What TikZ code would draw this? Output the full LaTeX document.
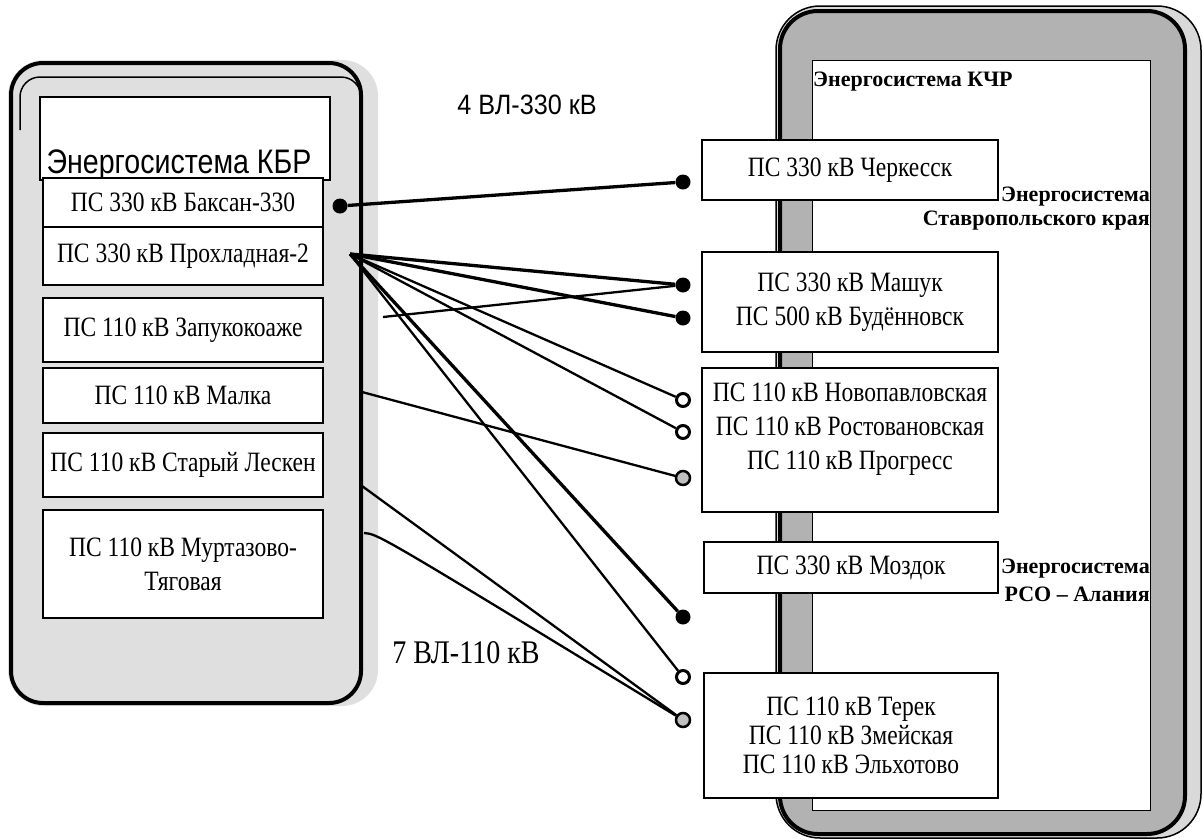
\documentclass[tikz,border=0pt]{standalone}
\usepackage{fontspec}
\setmainfont{Liberation Serif}
\newfontfamily\boxfont[FakeStretch=0.84]{Liberation Serif}
\newfontfamily\sysfont[FakeStretch=0.84]{Liberation Sans}
\newfontfamily\vlsans[FakeStretch=0.9]{Liberation Sans}
\newfontfamily\vlserif[FakeStretch=0.85]{Liberation Serif}
\begin{document}
\begin{tikzpicture}[x=1pt,y=-1pt,
  box/.style={draw=black,line width=2pt,fill=white,inner sep=0pt,align=center,
    font=\boxfont\fontsize{28}{34}\selectfont},
  lbl/.style={inner sep=0pt,font=\bfseries\fontsize{22}{24}\selectfont},
  fdot/.style={circle,fill=black,inner sep=0pt,minimum size=15pt},
  odot/.style={circle,draw=black,line width=3pt,fill=white,inner sep=0pt,minimum size=13pt},
  gdot/.style={circle,draw=black,line width=2.5pt,fill=gray!50,inner sep=0pt,minimum size=14pt},
  lhv/.style={line width=3.3pt,black},
  llv/.style={line width=2.3pt,black}]
\useasboundingbox (0,0) rectangle (1203,839);

% ---------- left panel (Energosystem KBR)
\path[fill=gray!25,rounded corners=36pt] (8,60) rectangle (378,706);
\draw[line width=4pt,rounded corners=32pt] (11,63) rectangle (361,703);
\draw[line width=1.5pt,rounded corners=20pt] (20,130) |- (361,77) -- (361,110);
\path[fill=white,draw=black,line width=1.8pt] (40,97) rectangle (330,180);
\node[font=\sysfont\fontsize{34}{36}\selectfont,anchor=base,inner sep=0pt] (kbr) at (179,173) {Энергосистема КБР};

\node[box,minimum width=280pt,minimum height=49pt] (L1) at (183,202.5) {ПС 330 кВ Баксан-330};
\node[box,minimum width=280pt,minimum height=58pt] (L2) at (183,256) {ПС 330 кВ Прохладная-2};
\node[box,minimum width=280pt,minimum height=64pt] (L3) at (183,330) {ПС 110 кВ Запукокоаже};
\node[box,minimum width=280pt,minimum height=55pt] (L4) at (183,395.5) {ПС 110 кВ Малка};
\node[box,minimum width=280pt,minimum height=64pt] (L5) at (183,465) {ПС 110 кВ Старый Лескен};
\node[box,minimum width=280pt,minimum height=108pt] (L6) at (183,564) {ПС 110 кВ Муртазово-\\Тяговая};

% ---------- right panel
\path[fill=gray!30,draw=black,line width=1.5pt,rounded corners=44pt] (776,6) rectangle (1201,838);
\draw[line width=4pt,fill=gray!60,rounded corners=38pt] (780,11) rectangle (1185,834);
\path[fill=white,draw=black,line width=1pt] (812,60) rectangle (1150,810);

\node[lbl,anchor=base west] (kchr) at (813,86) {Энергосистема КЧР};
\node[lbl,anchor=base east] (stav1) at (1150,201) {Энергосистема};
\node[lbl,anchor=base east] (stav2) at (1150,225) {Ставропольского края};
\node[lbl,anchor=base east] (rso1) at (1150,573) {Энергосистема};
\node[lbl,anchor=base east] (rso2) at (1150,601) {РСО – Алания};

\node[box,minimum width=296pt,minimum height=60pt] (R1) at (850,170) {ПС 330 кВ Черкесск};
\node[box,minimum width=296pt,minimum height=100pt] (R2) at (850,302) {ПС 330 кВ Машук\\ПС 500 кВ Будённовск};
\node[box,minimum width=296pt,minimum height=144pt] (R3) at (850,440) {ПС 110 кВ Новопавловская\\ПС 110 кВ Ростовановская\\ПС 110 кВ Прогресс\\[-6pt]\mbox{}};
\node[box,minimum width=294pt,minimum height=51pt] (R4) at (851,567.5) {ПС 330 кВ Моздок};
\node[box,minimum width=294pt,minimum height=125pt,font=\boxfont\fontsize{28}{29}\selectfont] (R5) at (851,735.5) {ПС 110 кВ Терек\\ПС 110 кВ Змейская\\ПС 110 кВ Эльхотово};

% ---------- line labels
\node[font=\vlsans\fontsize{28}{30}\selectfont,inner sep=0pt] (lab330) at (527,105) {4 ВЛ-330 кВ};
\node[font=\vlserif\fontsize{33}{35}\selectfont,inner sep=0pt] (lab110) at (466,653) {7 ВЛ-110 кВ};

% ---------- end points
\node[fdot] (LB) at (340,206) {};
\coordinate (P) at (350,254);
\coordinate (Z) at (383,317);
\coordinate (M) at (362,392);
\coordinate (S) at (362,486);
\coordinate (T) at (364,533);

\node[fdot] (D1) at (683,182) {};
\node[fdot] (D2) at (683,285) {};
\node[fdot] (D3) at (683,318) {};
\node[odot] (D4) at (683,400) {};
\node[odot] (D5) at (683,432) {};
\node[gdot] (D6) at (683,478) {};
\node[fdot] (D7) at (683,617) {};
\node[odot] (D8) at (683,677) {};
\node[gdot] (D9) at (683,720) {};

% ---------- connectors
\draw[lhv] (LB) -- (D1);
\draw[lhv] (P) -- (D2);
\draw[lhv] (P) -- (D3);
\draw[llv] (P) -- (D4);
\draw[llv] (P) -- (D5);
\draw[lhv] (P) -- (D7);
\draw[llv] (P) -- (D8);
\draw[llv] (Z) -- (D2);
\draw[llv] (M) -- (D6);
\draw[llv] (S) -- (D9);
\draw[llv] (T) .. controls (378,534) .. (D9);
\end{tikzpicture}
\end{document}
